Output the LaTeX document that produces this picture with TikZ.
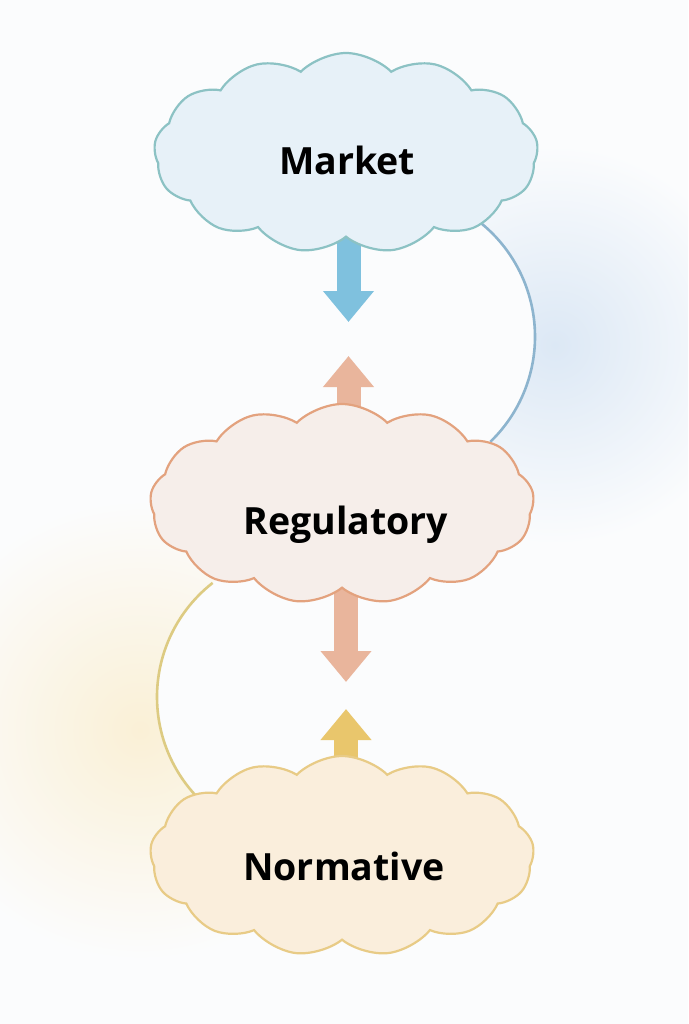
\documentclass[tikz,border=0pt]{standalone}
\usepackage{fontspec}
\setmainfont{Open Sans}
\usetikzlibrary{shapes.symbols,arrows.meta,calc}
\definecolor{bg}{HTML}{FBFCFD}
\definecolor{blueglow}{HTML}{DCE8F5}
\definecolor{yellowglow}{HTML}{FAF0D6}
\definecolor{mktfill}{HTML}{E7F1F8}
\definecolor{mktline}{HTML}{8CC2C4}
\definecolor{mktarrow}{HTML}{7FC1DE}
\definecolor{bluearc}{HTML}{8DB4CE}
\definecolor{regfill}{HTML}{F6EEEA}
\definecolor{regline}{HTML}{E3A27E}
\definecolor{regarrow}{HTML}{E9B59C}
\definecolor{norfill}{HTML}{FAEEDC}
\definecolor{norline}{HTML}{E8CB86}
\definecolor{norarrow}{HTML}{E9C66C}
\definecolor{yelarc}{HTML}{DDCB82}
\tikzset{
  cloudbox/.style={cloud, cloud puffs=13, cloud puff arc=90, aspect=1.9,
    line width=2.2pt, minimum width=384pt, minimum height=200pt, inner sep=0pt},
  blockarrow/.style={line width=24pt, -{Triangle[width=49pt,length=31pt]}},
  lbl/.style={font=\bfseries\fontsize{37.5}{44}\selectfont, text=black, inner sep=0pt},
  arcline/.style={line width=2.6pt}
}
\begin{document}
\begin{tikzpicture}[x=1pt,y=-1pt]
\fill[bg] (0,0) rectangle (688,1024);
\useasboundingbox (0,0) rectangle (688,1024);
% glows
\begin{scope}[even odd rule]
  \clip (0,0) rectangle (688,1024) (388.8,336.6) circle[radius=146.2];
  \shade[inner color=blueglow, outer color=bg] (555,345) circle[radius=200];
\end{scope}
\begin{scope}[even odd rule]
  \clip (0,0) rectangle (688,1024) (301.8,697) circle[radius=144.8];
  \shade[inner color=yellowglow, outer color=bg] (140,730) circle[radius=230];
\end{scope}
% arcs
\coordinate (bc) at (388.8,336.6);
\coordinate (yc) at (301.8,697);
\draw[arcline, bluearc] ($(bc)+(-60:146.2)$) coordinate (bs) arc[start angle=-60, end angle=46, radius=146.2];
\draw[arcline, yelarc] ($(yc)+(232:144.8)$) coordinate (ys) arc[start angle=232, end angle=132, radius=144.8];
% arrow end points
\coordinate (t1) at (348.5,322);
\coordinate (t2) at (348.5,356);
\coordinate (t3) at (346,682);
\coordinate (t4) at (346,709);
\draw[blockarrow, mktarrow] (348.5,200) -- (t1);
\draw[blockarrow, regarrow] (348.5,470) -- (t2);
\draw[blockarrow, regarrow] (346,540) -- (t3);
\draw[blockarrow, norarrow] (346,820) -- (t4);
% clouds
\node[cloudbox, draw=mktline, fill=mktfill] (mkt) at (346,153) {};
\node[cloudbox, draw=regline, fill=regfill] (reg) at (342,504) {};
\node[cloudbox, draw=norline, fill=norfill] (nor) at (342,856) {};
\node[lbl] (mktl) at (347,160) {Market};
\node[lbl] (regl) at (346,525) {Regulatory};
\node[lbl] (norl) at (344,866) {Normative};
\end{tikzpicture}
\end{document}
